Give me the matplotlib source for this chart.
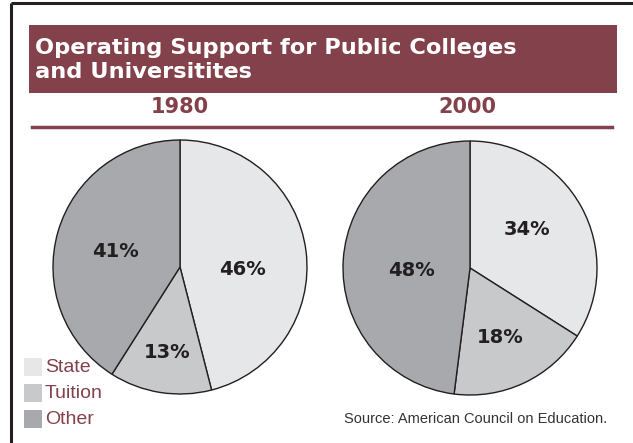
import matplotlib.pyplot as plt
from matplotlib.patches import Rectangle

# data
categories = ['State', 'Tuition', 'Other']
years = ['1980', '2000']
shares_1980 = [46, 13, 41]
shares_2000 = [34, 18, 48]
colors = ['#E6E7E8', '#C8C9CB', '#A7A9AC']
title_lines = ['Operating Support for Public Colleges', 'and Universitites']
source = 'Source: American Council on Education.'

maroon = '#83414B'
ink = '#231F20'
W, H = 633, 443

fig = plt.figure(figsize=(W / 100, H / 100), dpi=100)

# overlay axes in pixel coords for the frame, banner and legend
bg = fig.add_axes([0, 0, 1, 1])
bg.set_xlim(0, W)
bg.set_ylim(H, 0)
bg.axis('off')

bg.plot([11, W], [3, 3], color=ink, lw=2.2, solid_capstyle='butt')
bg.plot([11, 11], [3, H], color=ink, lw=2.2, solid_capstyle='butt')

bg.add_patch(Rectangle((29, 25), 588, 68, facecolor=maroon, edgecolor='none'))
for i, line in enumerate(title_lines):
    bg.text(35, 54 + i * 24, line, color='white', fontsize=16.2,
            fontweight='bold', va='baseline', ha='left')

bg.plot([32, 612], [127, 127], color=maroon, lw=2.5)
bg.text(180, 107, years[0], color=maroon, fontsize=15, fontweight='bold',
        ha='center', va='center')
bg.text(467, 107, years[1], color=maroon, fontsize=15, fontweight='bold',
        ha='center', va='center')

# legend
for i, (cat, col) in enumerate(zip(categories, colors)):
    y = 358 + i * 26
    bg.add_patch(Rectangle((24, y), 18, 18, facecolor=col, edgecolor='none'))
    bg.text(45, y + 9, cat, color=maroon, fontsize=14,
            family='Liberation Sans', ha='left', va='center')

bg.text(607, 419, source, color='#333333', fontsize=10.5,
        family='Liberation Sans', ha='right', va='center')


def draw_pie(cx, cy, r, values, label_pos):
    ax = fig.add_axes([(cx - r) / W, (H - cy - r) / H, 2 * r / W, 2 * r / H])
    ax.pie(values, colors=colors, startangle=90, counterclock=False,
           wedgeprops=dict(edgecolor=ink, linewidth=1.0))
    ax.set_xlim(-1, 1)
    ax.set_ylim(-1, 1)
    ax.set_aspect('equal')
    ax.axis('off')
    for v, (lx, ly) in zip(values, label_pos):
        ax.text(lx, ly, f'{v}%', fontsize=14, fontweight='bold', color=ink,
                ha='center', va='center')


# label offsets in pie-radius units
draw_pie(180, 267, 127, shares_1980, [(0.49, -0.02), (-0.10, -0.67), (-0.51, 0.12)])
draw_pie(470, 268, 127, shares_2000, [(0.45, 0.30), (0.24, -0.55), (-0.46, -0.02)])

fig.savefig('out.png', dpi=100)
